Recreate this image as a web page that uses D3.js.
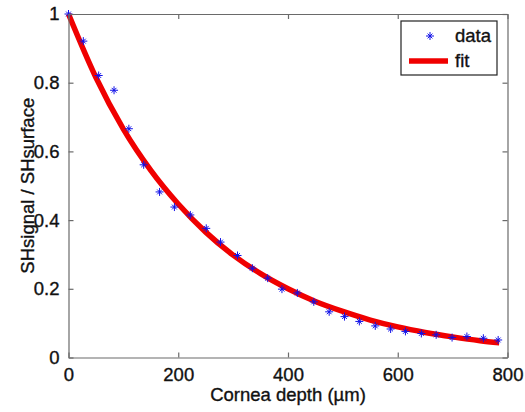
<!DOCTYPE html>
<html>
<head>
<meta charset="utf-8">
<script src="https://cdn.jsdelivr.net/npm/d3@7"></script>
<style>
	html, body { margin: 0; padding: 0; background: #fff; }
	svg text { font-family: Arial, "Liberation Sans", sans-serif; fill: #111; stroke: #111; stroke-width: 0.35px; }
</style>
</head>
<body>
<svg id="chart" width="525" height="412"></svg>
<script>
(function () {
	'use strict';

	// --- Data ---
	var depth = [0, 27, 55, 83, 110, 137, 166, 193, 222, 251, 277, 308, 335, 363, 389,
		417, 447, 475, 503, 530, 559, 587, 614, 643, 670, 699, 726, 756, 783];
	var ratio = [1.0, 0.921, 0.821, 0.778, 0.666, 0.561, 0.482, 0.438, 0.415, 0.376, 0.336,
		0.297, 0.260, 0.231, 0.199, 0.188, 0.162, 0.133, 0.119, 0.105, 0.092, 0.083,
		0.076, 0.070, 0.066, 0.058, 0.061, 0.056, 0.051];

	// fit curve
	var fitDepth = [0, 50, 100, 150, 200, 250, 300, 350, 400, 450, 500, 550, 600, 650, 700, 750, 785];
	var fitRatio = [1.0, 0.815, 0.665, 0.545, 0.447, 0.365, 0.298, 0.244, 0.200, 0.163,
		0.134, 0.109, 0.089, 0.073, 0.060, 0.049, 0.043];

	var xTicks = [0, 200, 400, 600, 800];
	var yTicks = [0, 0.2, 0.4, 0.6, 0.8, 1];
	var legendLabels = ['data', 'fit'];

	// --- Layout ---
	var LEFT = 68.5, RIGHT = 507.5, TOP = 14, BOTTOM = 357.5;
	var TICK = 5;
	var AXIS_COLOR = '#6a6a6a';
	var MARKER_COLOR = '#1010e8';
	var FIT_COLOR = '#f00000';
	var FONT_SIZE = '18.5px';

	var svg = d3.select('#chart');
	var x = d3.scaleLinear().domain([0, 800]).range([LEFT, RIGHT]);
	var y = d3.scaleLinear().domain([0, 1]).range([BOTTOM, TOP]);

	// star marker, like matlab '*'
	function starPath(s) {
		var d = s * 0.6;
		return 'M' + (-s) + ',0L' + s + ',0M0,' + (-s) + 'L0,' + s +
			'M' + (-d) + ',' + (-d) + 'L' + d + ',' + d +
			'M' + (-d) + ',' + d + 'L' + d + ',' + (-d);
	}

	// --- Fit line ---
	var fitPts = fitDepth.map(function (d, i) { return [d, fitRatio[i]]; });
	svg.append('path')
		.datum(fitPts)
		.attr('fill', 'none')
		.attr('stroke', FIT_COLOR)
		.attr('stroke-width', 5.5)
		.attr('stroke-linejoin', 'round')
		.attr('d', d3.line()
			.x(function (d) { return x(d[0]); })
			.y(function (d) { return y(d[1]); })
			.curve(d3.curveMonotoneX));

	// --- Data markers ---
	var pts = depth.map(function (d, i) { return [d, ratio[i]]; });
	svg.append('g').selectAll('path')
		.data(pts)
		.enter()
		.append('path')
		.attr('transform', function (d) { return 'translate(' + x(d[0]) + ',' + y(d[1]) + ')'; })
		.attr('d', starPath(4))
		.attr('stroke', MARKER_COLOR)
		.attr('stroke-width', 1)
		.attr('fill', 'none');

	// --- Axes box with inward ticks (matlab style) ---
	var axes = svg.append('g');
	var bottomAxis = d3.axisBottom(x).tickValues(xTicks).tickSizeInner(-TICK).tickSizeOuter(0).tickPadding(10)
		.tickFormat(d3.format('d'));
	var topAxis = d3.axisTop(x).tickValues(xTicks).tickSizeInner(-TICK).tickSizeOuter(0).tickFormat('');
	var leftAxis = d3.axisLeft(y).tickValues(yTicks).tickSizeInner(-TICK).tickSizeOuter(0).tickPadding(9)
		.tickFormat(function (d) { return d === 0 || d === 1 ? String(d) : d3.format('.1f')(d); });
	var rightAxis = d3.axisRight(y).tickValues(yTicks).tickSizeInner(-TICK).tickSizeOuter(0).tickFormat('');

	axes.append('g').attr('transform', 'translate(0,' + BOTTOM + ')').call(bottomAxis);
	axes.append('g').attr('transform', 'translate(0,' + TOP + ')').call(topAxis);
	axes.append('g').attr('transform', 'translate(' + LEFT + ',0)').call(leftAxis);
	axes.append('g').attr('transform', 'translate(' + RIGHT + ',0)').call(rightAxis);

	axes.selectAll('.domain').attr('stroke', AXIS_COLOR).attr('stroke-width', 1.2);
	axes.selectAll('.tick line').attr('stroke', AXIS_COLOR).attr('stroke-width', 1.2);
	axes.selectAll('.tick text')
		.style('font-family', 'Arial, "Liberation Sans", sans-serif')
		.style('font-size', FONT_SIZE)
		.attr('fill', '#111');

	// --- Axis titles ---
	svg.append('text')
		.attr('x', (LEFT + RIGHT) / 2)
		.attr('y', 401)
		.attr('text-anchor', 'middle')
		.style('font-size', FONT_SIZE)
		.text('Cornea depth (\u00b5m)');

	svg.append('text')
		.attr('transform', 'translate(34,' + (TOP + BOTTOM) / 2 + ') rotate(-90)')
		.attr('text-anchor', 'middle')
		.style('font-size', FONT_SIZE)
		.text('SHsignal / SHsurface');

	// --- Legend ---
	var lg = svg.append('g').attr('transform', 'translate(401,21)');
	lg.append('rect')
		.attr('width', 96).attr('height', 54)
		.attr('fill', '#fff')
		.attr('stroke', '#222').attr('stroke-width', 1.2);
	lg.append('path')
		.attr('transform', 'translate(29,15)')
		.attr('d', starPath(4))
		.attr('stroke', MARKER_COLOR).attr('stroke-width', 1).attr('fill', 'none');
	lg.append('line')
		.attr('x1', 8).attr('x2', 47).attr('y1', 40).attr('y2', 40)
		.attr('stroke', FIT_COLOR).attr('stroke-width', 5.5);
	lg.selectAll('text.lab')
		.data(legendLabels)
		.enter()
		.append('text')
		.attr('class', 'lab')
		.attr('x', 54)
		.attr('y', function (d, i) { return 21 + i * 25; })
		.style('font-size', FONT_SIZE)
		.text(function (d) { return d; });
})();
</script>
</body>
</html>
